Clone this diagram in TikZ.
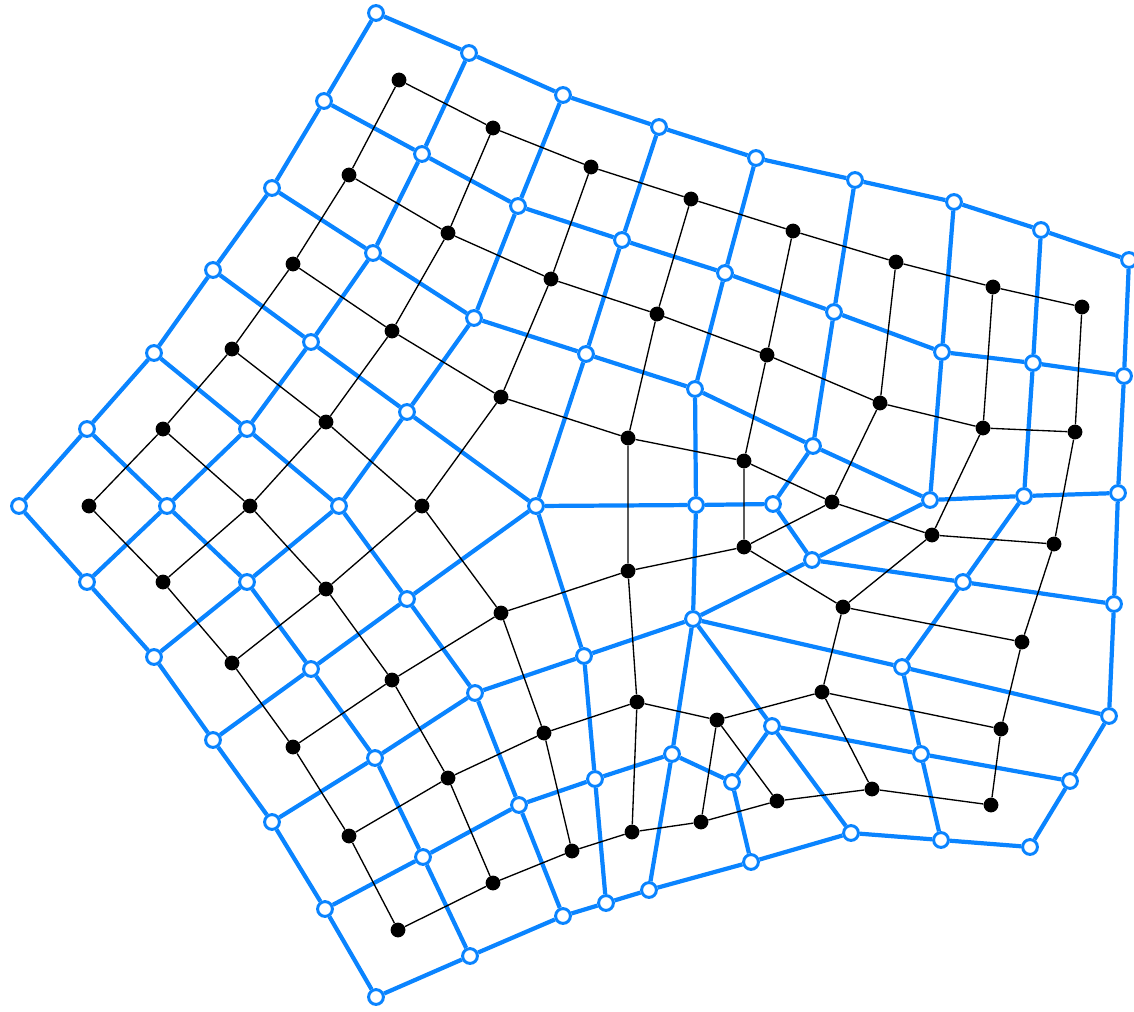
\documentclass[tikz,border=0pt]{standalone}
\usepackage{tikz}
\usetikzlibrary{backgrounds}
\usepackage{xcolor}
\definecolor{meshblue}{RGB}{10,132,255}

\begin{document}
\begin{tikzpicture}[x=0.025cm,y=-0.025cm,
  pv/.style={circle,draw=meshblue,fill=white,line width=2.1pt,minimum size=0.37cm,inner sep=0pt},
  dv/.style={circle,fill=black,minimum size=0.37cm,inner sep=0pt},
  pe/.style={draw=meshblue,line width=3pt,line join=round},
  de/.style={draw=black,line width=0.95pt,line join=round}]
\useasboundingbox (0,0) rectangle (1134,1012);
% blue mesh vertices
\foreach \n/\x/\y in {a0/376/13,a1/469/53,a2/563/95,a3/659/127,a4/756/158,a5/855/180,a6/954/202,a7/1041/230,a8/1129/260,
  b0/324/101,b1/422/154,b2/518/206,b3/622/240,b4/725/273,b5/834/312,b6/942/352,b7/1033/363,b8/1124/376,
  c0/272/188,c1/373/253,c2/474/318,c3/586/354,c4/695/389,c5/813/446,c6/930/500,c7/1024/496,c8/1118/493,
  d0/213/270,d1/311/342,d2/407/412,d3/536/506,d4/696/505,d5/773/504,
  e0/154/353,e1/247/429,e2/339/506,e3/407/599,e4/475/693,e5/519/805,e6/563/916,
  f0/87/429,f1/167/506,f2/247/582,f3/311/669,f4/375/758,f5/423/857,f6/470/956,
  g0/19/506,g1/87/582,g2/154/657,g3/213/740,g4/272/822,g5/325/909,g6/376/997,
  h4/584/656,h5/595/779,h6/606/903,
  m/693/619,n/812/560,r1/963/582,r2/1114/604,s1/902/667,s2/1109/716,t1/921/754,t2/1070/781,
  u1/941/840,u2/1030/847,v1/772/726,v2/851/833,w1/672/754,w2/732/782,w3/751/862,w4/649/890}
  \node[pv] (\n) at (\x,\y) {};
% dual vertices
\foreach \n/\x/\y in {A0/399/80,A1/493/128,A2/591/167,A3/691/199,A4/793/231,A5/896/262,A6/993/287,A7/1082/307,
  B0/349/175,B1/448/233,B2/551/279,B3/657/314,B4/767/355,B5/880/403,B6/983/428,B7/1075/432,
  C0/293/264,C1/392/331,C2/501/397,C3/628/438,C4/744/461,C5/832/502,C6/932/535,C7/1054/544,
  D0/232/349,D1/326/422,D2/422/506,D3/501/613,D4/544/733,D5/572/851,
  E0/163/429,E1/250/506,E2/326/589,E3/392/680,E4/448/778,E5/493/883,
  F0/89/506,F1/163/582,F2/232/663,F3/293/747,F4/349/836,F5/398/930,
  X1/628/571,X2/744/547,X3/843/607,X4/1022/642,X5/1001/729,X6/991/805,X7/822/692,
  X8/872/789,X9/777/801,X10/717/720,X11/637/702,X12/632/832,X13/701/822}
  \node[dv] (\n) at (\x,\y) {};
\begin{pgfonlayer}{background}
% blue edges
\draw[pe] (a0) -- (a1) -- (a2) -- (a3) -- (a4) -- (a5) -- (a6) -- (a7) -- (a8);
\draw[pe] (b0) -- (b1) -- (b2) -- (b3) -- (b4) -- (b5) -- (b6) -- (b7) -- (b8);
\draw[pe] (c0) -- (c1) -- (c2) -- (c3) -- (c4) -- (c5) -- (c6) -- (c7) -- (c8);
\draw[pe] (d0) -- (d1) -- (d2) -- (d3) -- (d4) -- (d5) -- (n) -- (r1) -- (r2);
\draw[pe] (e0) -- (e1) -- (e2) -- (e3) -- (e4) -- (e5) -- (e6);
\draw[pe] (f0) -- (f1) -- (f2) -- (f3) -- (f4) -- (f5) -- (f6);
\draw[pe] (a0) -- (b0) -- (c0) -- (d0) -- (e0) -- (f0) -- (g0);
\draw[pe] (g0) -- (g1) -- (g2) -- (g3) -- (g4) -- (g5) -- (g6);
\draw[pe] (g6) -- (f6) -- (e6) -- (h6) -- (w4) -- (w3) -- (v2) -- (u1) -- (u2);
\draw[pe] (a8) -- (b8) -- (c8) -- (r2) -- (s2) -- (t2) -- (u2);
\draw[pe] (a1) -- (b1) -- (c1) -- (d1) -- (e1) -- (f1) -- (g1);
\draw[pe] (a2) -- (b2) -- (c2) -- (d2) -- (e2) -- (f2) -- (g2);
\draw[pe] (a3) -- (b3) -- (c3) -- (d3) -- (e3) -- (f3) -- (g3);
\draw[pe] (a4) -- (b4) -- (c4) -- (d4) -- (m) -- (s1) -- (t1) -- (u1);
\draw[pe] (a5) -- (b5) -- (c5) -- (d5);
\draw[pe] (a6) -- (b6) -- (c6) -- (n) -- (m) -- (w1) -- (w4);
\draw[pe] (a7) -- (b7) -- (c7) -- (r1) -- (s1) -- (s2);
\draw[pe] (d3) -- (h4) -- (h5) -- (h6);
\draw[pe] (h4) -- (e4) -- (f4) -- (g4);
\draw[pe] (h5) -- (e5) -- (f5) -- (g5);
\draw[pe] (h4) -- (m) -- (v1) -- (v2);
\draw[pe] (h5) -- (w1) -- (w2) -- (v1) -- (t1) -- (t2);
\draw[pe] (w2) -- (w3);
% dual edges
\draw[de] (A0) -- (A1) -- (A2) -- (A3) -- (A4) -- (A5) -- (A6) -- (A7);
\draw[de] (B0) -- (B1) -- (B2) -- (B3) -- (B4) -- (B5) -- (B6) -- (B7);
\draw[de] (C0) -- (C1) -- (C2) -- (C3) -- (C4) -- (C5) -- (C6) -- (C7);
\draw[de] (D0) -- (D1) -- (D2) -- (D3) -- (D4) -- (D5);
\draw[de] (E0) -- (E1) -- (E2) -- (E3) -- (E4) -- (E5);
\draw[de] (F0) -- (F1) -- (F2) -- (F3) -- (F4) -- (F5);
\draw[de] (A0) -- (B0) -- (C0) -- (D0) -- (E0) -- (F0);
\draw[de] (A1) -- (B1) -- (C1) -- (D1) -- (E1) -- (F1);
\draw[de] (A2) -- (B2) -- (C2) -- (D2) -- (E2) -- (F2);
\draw[de] (A3) -- (B3) -- (C3) -- (X1) -- (D3) -- (E3) -- (F3);
\draw[de] (D4) -- (E4) -- (F4);
\draw[de] (D5) -- (E5) -- (F5);
\draw[de] (A4) -- (B4) -- (C4) -- (X2) -- (X1) -- (X11) -- (D4);
\draw[de] (A5) -- (B5) -- (C5) -- (X2) -- (X3) -- (X7) -- (X10) -- (X11);
\draw[de] (A6) -- (B6) -- (C6) -- (X3) -- (X4) -- (X5) -- (X6) -- (X8) -- (X9) -- (X13) -- (X12) -- (D5);
\draw[de] (A7) -- (B7) -- (C7) -- (X4);
\draw[de] (X5) -- (X7) -- (X8);
\draw[de] (X9) -- (X10) -- (X13);
\draw[de] (X11) -- (X12);
\end{pgfonlayer}
\end{tikzpicture}
\end{document}
